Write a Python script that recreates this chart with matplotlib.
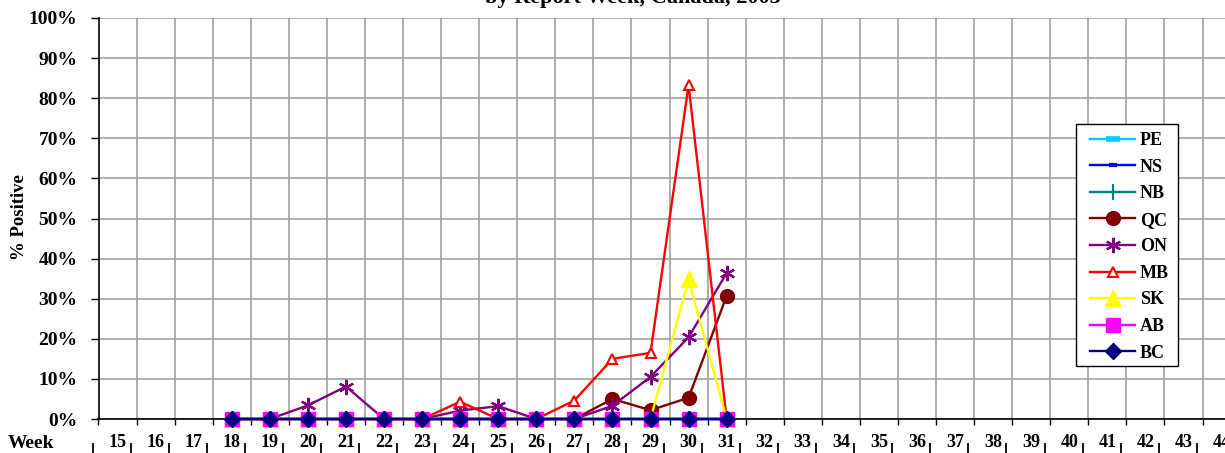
import matplotlib
matplotlib.use('Agg')
import matplotlib.pyplot as plt
from matplotlib.patches import Rectangle
import numpy as np

plt.rcParams['font.family'] = ['Liberation Serif', 'DejaVu Serif']
plt.rcParams['font.weight'] = 'bold'

week_labels = [str(w) for w in range(15, 45)]
weeks = [18, 19, 20, 21, 22, 23, 24, 25, 26, 27, 28, 29, 30, 31]

# % positive per province, weeks 18-31
pe = [0, 0, 0, 0, 0, 0, 0, 0, 0, 0, 0, 0, 0, 0]
ns = [0, 0, 0, 0, 0, 0, 0, 0, 0, 0, 0, 0, 0, 0]
nb = [0, 0, 0, 0, 0, 0, 0, 0, 0, 0, 0, 0, 0, 0]
qc = [0, 0, 0, 0, 0, 0, 0, 0, 0, 0, 5.0, 2.2, 5.3, 30.7]
on = [0, 0, 3.4, 8.1, 0, 0, 2.1, 3.2, 0, 0, 3.3, 10.5, 20.4, 36.4]
mb = [0, 0, 0, 0, 0, 0, 4.3, 0, 0, 4.6, 15.0, 16.5, 83.3, 0]
sk = [0, 0, 0, 0, 0, 0, 0, 0, 0, 0, 0, 0, 34.8, 0]
ab = [0, 0, 0, 0, 0, 0, 0, 0, 0, 0, 0, 0, 0, 0]
bc = [0, 0, 0, 0, 0, 0, 0, 0, 0, 0, 0, 0, 0, 0]

W, H = 1225, 453
fig = plt.figure(figsize=(W / 100, H / 100), dpi=100)

bw = 38.07  # px per week band
x0, y0 = 98.5, 34
ax = fig.add_axes([x0 / W, y0 / H, 30 * bw / W, 401 / H])

series = [
    ('PE', pe, '#00CCFF', dict(marker='_', ms=10, mew=4)),
    ('NS', ns, '#0000FF', dict(marker='_', ms=6, mew=3)),
    ('NB', nb, '#008080', dict(marker='+', ms=11, mew=1.5)),
    ('QC', qc, '#800000', dict(marker='o', ms=10)),
    ('ON', on, '#800080', dict(marker=(6, 2, 0), ms=11, mew=1.6)),
    ('MB', mb, '#FF0000', dict(marker='^', ms=6.5, mfc='white', mew=1.5)),
    ('SK', sk, '#FFFF00', dict(marker='^', ms=11)),
    ('AB', ab, '#FF00FF', dict(marker='s', ms=9.5)),
    ('BC', bc, '#000080', dict(marker='D', ms=8.5)),
]
for i, (name, vals, col, mk) in enumerate(series):
    ax.plot(weeks, vals, color=col, lw=1.7, label=name, mec=col,
            zorder=3 + i, clip_on=False, **mk)

ax.set_xlim(14.5, 44.5)
ax.set_ylim(0, 100)

ax.set_yticks(np.arange(0, 101, 10))
ax.set_yticklabels([f'{v}%' for v in range(0, 101, 10)])
ax.tick_params(axis='y', direction='out', length=6, width=1, pad=9, labelsize=14)

ax.set_xticks(np.arange(14.5, 45, 1))
ax.set_xticklabels([])
ax.set_xticks(range(15, 45), minor=True)
ax.set_xticklabels(week_labels, minor=True)
ax.tick_params(axis='x', which='major', direction='out', length=4, width=1)
ax.tick_params(axis='x', which='minor', length=0, pad=11, labelsize=13)

ax.grid(True, which='major', color='#a0a0a0', lw=1.2, zorder=0)
ax.set_axisbelow(True)
for s in ['top', 'right']:
    ax.spines[s].set_visible(False)
for s in ['left', 'bottom']:
    ax.spines[s].set_color('black')
    ax.spines[s].set_linewidth(1.2)

# small separator marks in the week label row
row = fig.add_axes([(x0 - bw) / W, 0, 31 * bw / W, 0.0001])
row.set_xlim(13.5, 44.5)
row.set_xticks(np.arange(14.5, 45, 1) - 0.15)
row.set_xticklabels([])
row.set_yticks([])
row.tick_params(axis='x', direction='in', length=7, width=1.3, color='black')
for s in row.spines.values():
    s.set_visible(False)
row.patch.set_visible(False)

fig.text(8 / W, 1 - 435 / H, 'Week', fontsize=14, va='top', ha='left')
fig.text(19 / W, 1 - 217 / H, '% Positive', fontsize=13.5, rotation=90,
         va='center', ha='center')
fig.text(633 / W, 1 - 3 / H, 'by Report Week, Canada, 2003', fontsize=16,
         va='baseline', ha='center')

# legend box drawn separately, entries placed inside it
box = Rectangle((1076 / W, 1 - 366 / H), 102 / W, 242 / H,
                transform=fig.transFigure, facecolor='white',
                edgecolor='black', lw=1, zorder=20, clip_on=False)
ax.add_patch(box)
leg = ax.legend(loc='upper left', bbox_to_anchor=(1090 / W, 1 - 132 / H),
                bbox_transform=fig.transFigure, borderaxespad=0,
                frameon=False, fontsize=13, handlelength=2.5,
                handletextpad=0.25, labelspacing=0.53, borderpad=0)
leg.set_zorder(30)

fig.savefig('out.png', dpi=100)
